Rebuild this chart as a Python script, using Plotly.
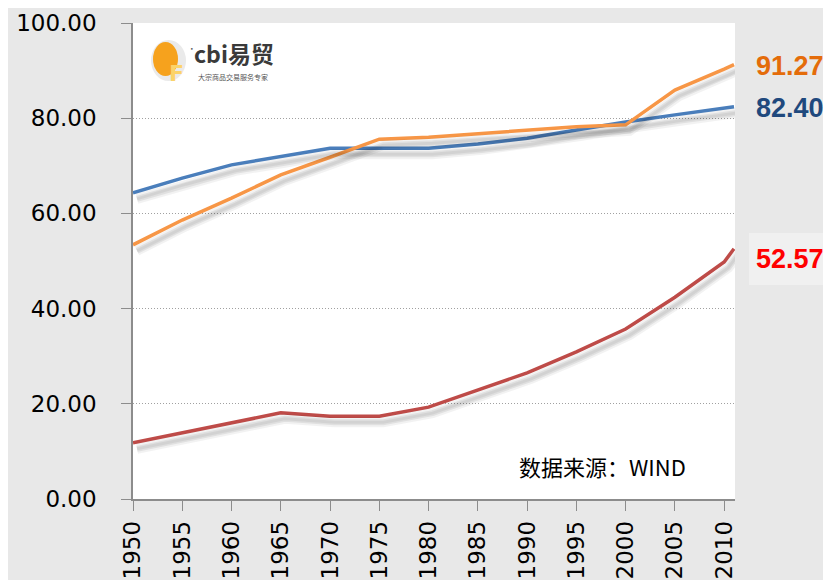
import plotly.graph_objects as go

years = [1950, 1955, 1960, 1965, 1970, 1975, 1980, 1985, 1990, 1995, 2000, 2005, 2010, 2011]
blue = [64.3, 67.4, 70.2, 71.9, 73.7, 73.7, 73.7, 74.6, 75.8, 77.5, 79.2, 80.7, 82.1, 82.40]
orange = [53.4, 58.6, 63.2, 68.1, 71.8, 75.6, 76.0, 76.7, 77.5, 78.2, 78.6, 85.9, 90.3, 91.27]
red = [11.8, 13.9, 16.0, 18.1, 17.4, 17.4, 19.3, 22.9, 26.5, 30.9, 35.7, 42.4, 49.8, 52.57]
end_labels = ["91.27", "82.40", "52.57"]
tick_years = list(range(1950, 2011, 5))
y_ticks = [0, 20, 40, 60, 80, 100]
source_text = "数据来源：WIND"

OFF = 8  # page body margin
W, H = 831 - OFF, 580 - OFF
L, T = 133 - OFF, 23 - OFF
pw, ph = 602, 476
R, B = W - L - pw, H - T - ph
X0, X1 = 1950, 2011.1
Y0, Y1 = 0, 100
xpp = (X1 - X0) / pw
ypp = (Y1 - Y0) / ph

def px(x):
    return (x - OFF - L) / pw

def py(y):
    return (T + ph - (y - OFF)) / ph

fig = go.Figure()

# shadows on offset axes
for series in (blue, orange, red):
    for w, a in ((10, 0.05), (6, 0.07), (3, 0.06)):
        fig.add_trace(go.Scatter(x=years, y=series, mode="lines", xaxis="x2", yaxis="y2",
                                 line=dict(color=f"rgba(0,0,0,{a})", width=w), hoverinfo="skip",
                                 showlegend=False))

colors = ["#4a7ebb", "#f79646", "#be4b48"]
for series, c in zip((blue, orange, red), colors):
    fig.add_trace(go.Scatter(x=years, y=series, mode="lines", line=dict(color=c, width=3.5),
                             showlegend=False))

dx, dy = 4, 6
fig.update_layout(
    width=W, height=H,
    margin=dict(l=L, r=R, t=T, b=B),
    paper_bgcolor="rgb(232,232,232)",
    plot_bgcolor="white",
    xaxis=dict(range=[X0, X1], tickvals=tick_years, tickangle=-90, ticks="outside", ticklen=10,
               tickcolor="#8c8c8c", showline=True, linecolor="#8c8c8c", linewidth=1.5,
               showgrid=False, zeroline=False, automargin=False,
               tickfont=dict(family="DejaVu Sans", size=23, color="black"), ticklabelstandoff=1),
    yaxis=dict(range=[Y0, Y1], tickvals=y_ticks, tickformat=".2f", ticks="outside", ticklen=10,
               tickcolor="#8c8c8c", showline=True, linecolor="#8c8c8c", linewidth=1.5,
               showgrid=True, gridcolor="#a0a0a0", griddash="1px,2px", gridwidth=1, zeroline=False,
               automargin=False,
               tickfont=dict(family="DejaVu Sans", size=23, color="black"), ticklabelstandoff=20),
    xaxis2=dict(range=[X0 - dx * xpp, X1 - dx * xpp], overlaying="x", visible=False, automargin=False),
    yaxis2=dict(range=[Y0 + dy * ypp, Y1 + dy * ypp], overlaying="y", visible=False, automargin=False),
)

# label box for red value
fig.add_shape(type="rect", xref="paper", yref="paper", x0=px(749), x1=px(831), y0=py(285), y1=py(233),
              fillcolor="#f0f0f0", line=dict(width=0), layer="below")

label_colors = ["#e46c0a", "#1f497d", "#ff0000"]
label_y = [66, 108, 259]
for t, c, yy in zip(end_labels, label_colors, label_y):
    fig.add_annotation(text=f"<b>{t}</b>", xref="paper", yref="paper", x=px(754), y=py(yy),
                       xanchor="left", yanchor="middle", showarrow=False,
                       font=dict(family="Liberation Sans", size=27, color=c))

# logo
fig.add_shape(type="circle", xref="paper", yref="paper", x0=px(151), x1=px(186), y0=py(81), y1=py(40),
              fillcolor="#eaeaea", line=dict(width=0))
fig.add_shape(type="circle", xref="paper", yref="paper", x0=px(153), x1=px(178), y0=py(76), y1=py(42),
              fillcolor="#f6a21d", line=dict(width=0))
fig.add_annotation(text="<b>F</b>", xref="paper", yref="paper", x=px(167), y=py(59), showarrow=False,
                   font=dict(family="DejaVu Sans", size=22, color="#fbd36a"))
fig.add_annotation(text="<b>cbi易贸</b>", xref="paper", yref="paper", x=px(192), y=py(53),
                   xanchor="left", yanchor="middle", showarrow=False,
                   font=dict(family="Noto Sans CJK SC", size=23, color="#3a3a3a"))
fig.add_annotation(text="•", xref="paper", yref="paper", x=px(188), y=py(43), showarrow=False,
                   font=dict(family="DejaVu Sans", size=6, color="#555"))
fig.add_annotation(text="大宗商品交易服务专家", xref="paper", yref="paper", x=px(196), y=py(77),
                   xanchor="left", yanchor="middle", showarrow=False,
                   font=dict(family="Noto Sans CJK SC", size=7, color="#555"))

fig.add_annotation(text=source_text, xref="paper", yref="paper", x=px(517), y=py(466),
                   xanchor="left", yanchor="middle", showarrow=False,
                   font=dict(family="Noto Sans CJK SC", size=22, color="black"))

fig.write_html("out.html")
